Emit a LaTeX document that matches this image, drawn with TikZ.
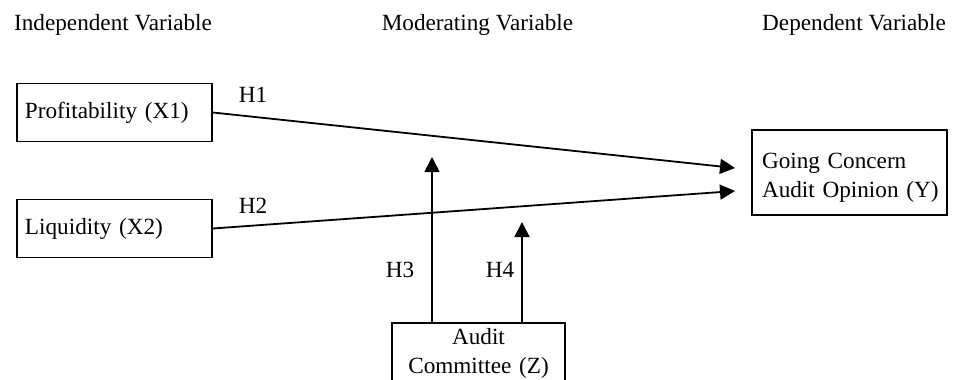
\documentclass[tikz,border=0pt]{standalone}
\usepackage{fontspec}
\setmainfont{Liberation Serif}
\usepackage{tikz}
\usetikzlibrary{positioning}
\usetikzlibrary{arrows.meta}

\begin{document}
\begin{tikzpicture}[x=0.5pt,y=-0.5pt,
  every node/.style={font=\fontsize{11.6}{14.5}\selectfont},
  varbox/.style={draw,line width=0.8pt,inner xsep=4pt,text width=89.5pt,minimum height=29pt,align=left},
  link/.style={draw,line width=0.9pt,-{Triangle[length=7.5pt,width=7.5pt]}}]
\useasboundingbox (0,0) rectangle (953,380);

\draw (113,30) node[anchor=base] (hin) {Independent Variable};
\draw (477.5,30) node[anchor=base] (hmod) {Moderating Variable};
\draw (854,30) node[anchor=base] (hdep) {Dependent Variable};

\draw (114.5,112.5) node[varbox] (prof) {Profitability (X1)};
\draw (114.5,228.5) node[varbox] (liq) {Liquidity (X2)};

\draw (849.5,172.5) node[varbox,inner xsep=3pt,text width=91.5pt,minimum height=42.5pt] (gco) {
\hspace*{2pt}\rule{0pt}{13pt}Going Concern\\
\hspace*{2pt}Audit Opinion (Y)
};

\draw (478.5,322) node[draw,line width=0.8pt,anchor=north,inner ysep=3pt,text width=80pt,align=center] (aud) {
Audit\\
Committee (Z)
};

\coordinate (t1) at (735,168);
\coordinate (t2) at (735,191);
\coordinate (t3) at (432,157);
\coordinate (t4) at (522,222);

\path[link] (prof.east) -- (t1);
\path[link] (liq.east) -- (t2);
\path[link] (t3 |- aud.north) -- (t3);
\path[link] (t4 |- aud.north) -- (t4);

\draw (253,95) node (h1) {H1};
\draw (253,206) node (h2) {H2};
\draw (400,270) node (h3) {H3};
\draw (500,270) node (h4) {H4};

\end{tikzpicture}
\end{document}
